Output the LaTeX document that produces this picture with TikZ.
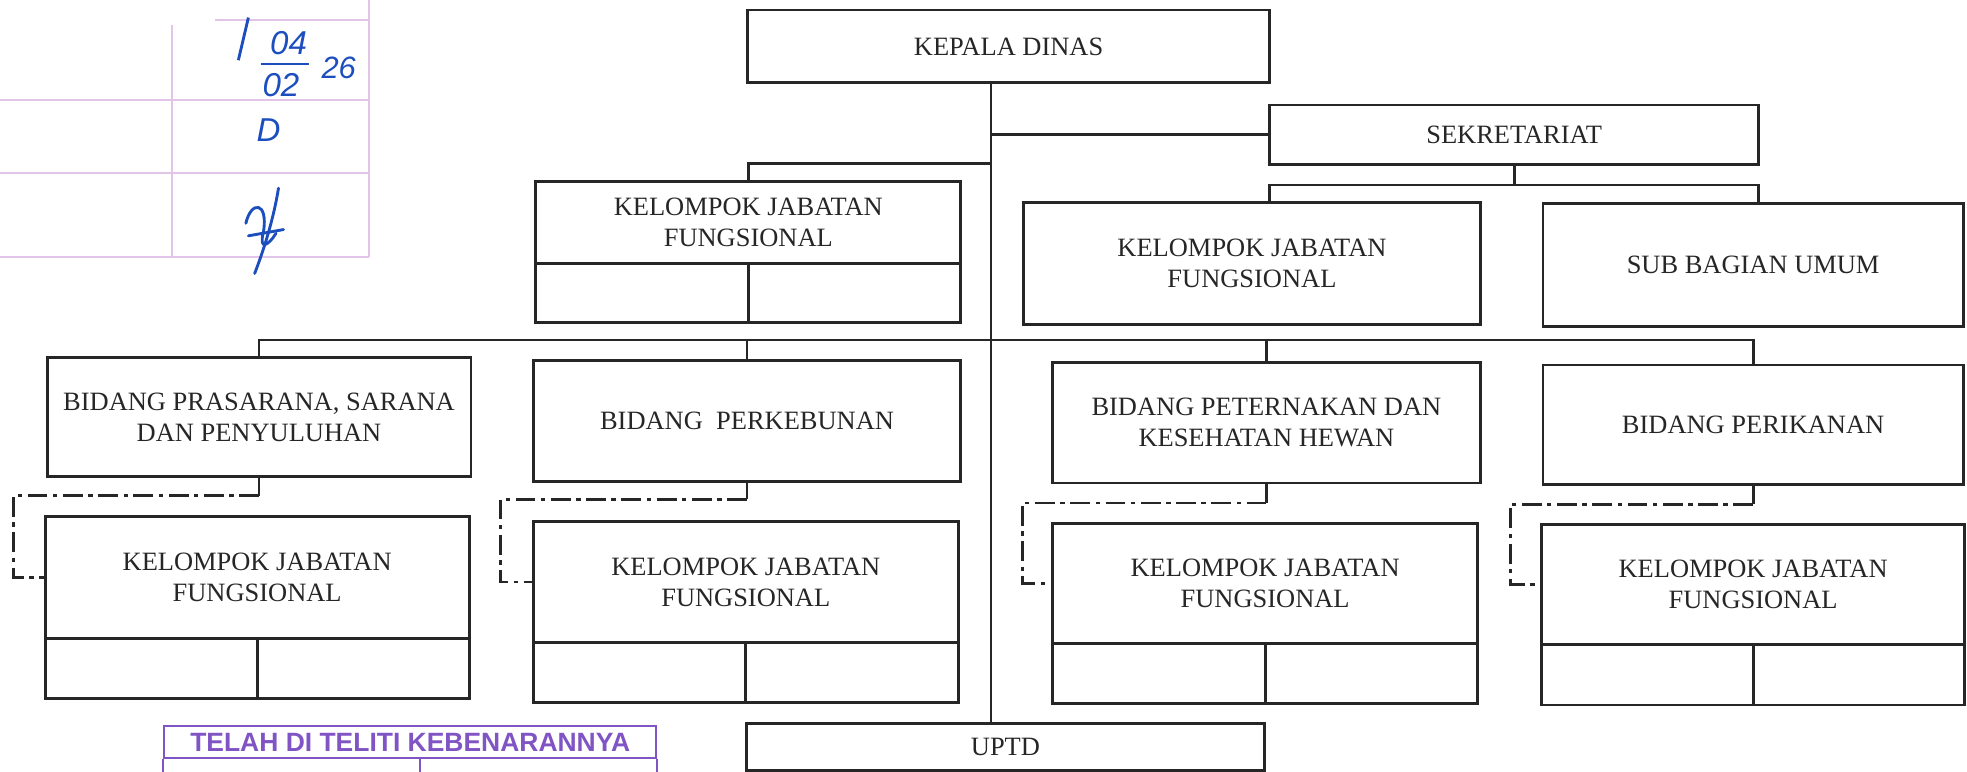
\documentclass[tikz,border=0pt]{standalone}
\usepackage{fontspec}
\setmainfont{Liberation Serif}
\setsansfont{Liberation Sans}
\usetikzlibrary{positioning}

\definecolor{stampviolet}{RGB}{128,84,196}
\definecolor{tablepink}{RGB}{226,196,232}
\definecolor{inkblue}{RGB}{28,78,190}

\tikzset{
  unit/.style={draw=black!85, line width=1.3pt, inner sep=0pt, outer sep=0pt, align=center,
    text=black!85, font=\fontsize{12}{14.2}\selectfont},
  link/.style={draw=black!85, line width=1.3pt},
  dotlink/.style={draw=black!85, line width=1.25pt,
    dash pattern=on 9pt off 2.5pt on 2pt off 2.5pt},
  hand/.style={text=inkblue, inner sep=0pt, font=\sffamily\itshape\fontsize{15}{15}\selectfont},
}

\begin{document}
\begin{tikzpicture}[x=0.02cm, y=-0.02cm]
  \useasboundingbox (0,0) rectangle (1568,615);

  % faint table and handwriting, top left
  \draw[tablepink, line width=0.8pt] (294,0) -- (294,205);
  \draw[tablepink, line width=0.8pt] (137,20) -- (137,205);
  \draw[tablepink, line width=0.8pt] (171,16) -- (294,16);
  \draw[tablepink, line width=0.8pt] (0,80) -- (294,80);
  \draw[tablepink, line width=0.8pt] (0,138) -- (294,138);
  \draw[tablepink, line width=0.8pt] (0,205) -- (294,205);
  \node[hand] (hwa) at (230,34) {04};
  \node[hand] (hwb) at (224,68) {02};
  \node[hand, font=\sffamily\itshape\fontsize{14}{14}\selectfont] (hwc) at (270,54) {26};
  \node[hand] (hwd) at (214,104) {D};
  \draw[inkblue, line width=1.3pt] (208,51) -- (246,51);
  \draw[inkblue, line width=1.3pt] (190,48) -- (198,14);
  \draw[inkblue, line width=1.3pt, line cap=round] (222,150) .. controls (218,175) and (210,200) .. (203,218);
  \draw[inkblue, line width=1.3pt, line cap=round] (196,178) .. controls (200,160) and (214,160) .. (210,185) .. controls (206,200) and (214,196) .. (220,186);
  \draw[inkblue, line width=1.3pt, line cap=round] (198,188) -- (226,183);

  \begin{scope}[every node/.style={unit}]
    \node[minimum width=8.32cm, minimum height=1.16cm] (kepala) at (804,37) {KEPALA DINAS};
    \node[minimum width=7.8cm, minimum height=0.95cm] (sekretariat) at (1207,107.5) {SEKRETARIAT};

    \node[minimum width=6.78cm, minimum height=1.3cm] (jfa) at (596.5,177.5) {KELOMPOK JABATAN\\FUNGSIONAL};
    \node[minimum width=3.39cm, minimum height=0.94cm, below right=0pt and 0pt of jfa.south west] (jfal) {};
    \node[minimum width=3.39cm, minimum height=0.94cm, below left=0pt and 0pt of jfa.south east] (jfar) {};
    \node[minimum width=7.28cm, minimum height=1.94cm] (jfb) at (998,210) {KELOMPOK JABATAN\\FUNGSIONAL};
    \node[minimum width=6.7cm, minimum height=1.96cm] (umum) at (1397.5,211) {SUB BAGIAN UMUM};

    \node[minimum width=6.76cm, minimum height=1.9cm] (prasarana) at (206.5,332.5) {BIDANG PRASARANA, SARANA\\DAN PENYULUHAN};
    \node[minimum width=6.82cm, minimum height=1.92cm] (perkebunan) at (595.5,335.5) {BIDANG\ \ PERKEBUNAN};
    \node[minimum width=6.82cm, minimum height=1.92cm] (peternakan) at (1009.5,337) {BIDANG PETERNAKAN DAN\\KESEHATAN HEWAN};
    \node[minimum width=6.7cm, minimum height=1.9cm] (perikanan) at (1397.5,338.5) {BIDANG PERIKANAN};

    \node[minimum width=6.76cm, minimum height=1.94cm] (jf1) at (205,460.5) {KELOMPOK JABATAN\\FUNGSIONAL};
    \node[minimum width=3.38cm, minimum height=0.96cm, below right=0pt and 0pt of jf1.south west] (jf1l) {};
    \node[minimum width=3.38cm, minimum height=0.96cm, below left=0pt and 0pt of jf1.south east] (jf1r) {};

    \node[minimum width=6.78cm, minimum height=1.92cm] (jf2) at (594.5,464) {KELOMPOK JABATAN\\FUNGSIONAL};
    \node[minimum width=3.39cm, minimum height=0.96cm, below right=0pt and 0pt of jf2.south west] (jf2l) {};
    \node[minimum width=3.39cm, minimum height=0.96cm, below left=0pt and 0pt of jf2.south east] (jf2r) {};

    \node[minimum width=6.78cm, minimum height=1.92cm] (jf3) at (1008.5,465) {KELOMPOK JABATAN\\FUNGSIONAL};
    \node[minimum width=3.39cm, minimum height=0.96cm, below right=0pt and 0pt of jf3.south west] (jf3l) {};
    \node[minimum width=3.39cm, minimum height=0.96cm, below left=0pt and 0pt of jf3.south east] (jf3r) {};

    \node[minimum width=6.74cm, minimum height=1.92cm] (jf4) at (1397.5,466) {KELOMPOK JABATAN\\FUNGSIONAL};
    \node[minimum width=3.37cm, minimum height=0.96cm, below right=0pt and 0pt of jf4.south west] (jf4l) {};
    \node[minimum width=3.37cm, minimum height=0.96cm, below left=0pt and 0pt of jf4.south east] (jf4r) {};

    \node[minimum width=8.26cm, minimum height=0.74cm] (uptd) at (801.5,595.5) {UPTD};
  \end{scope}

  % junction points
  \coordinate (tr) at (790,0);
  \coordinate (jjfa) at (790,130);
  \coordinate (bus) at (790,271);
  \coordinate (jumum) at (1207,147.5);
  \coordinate (c1) at (11,395);
  \coordinate (c2) at (399,398);
  \coordinate (c3) at (815,401);
  \coordinate (c4) at (1204,402);

  \draw[link] (kepala.south -| tr) -- (uptd.north -| tr);
  \draw[link] (sekretariat.west -| tr) -- (sekretariat.west);
  \draw[link] (jjfa) -| (jfa.north);
  \draw[link] (sekretariat.south) -- (jumum);
  \draw[link] (sekretariat.west |- jfb.north) |- (jumum) -| (sekretariat.east |- umum.north);
  \draw[link] (prasarana.north) |- (bus) -| (perikanan.north);
  \draw[link] (perkebunan.north) -- (perkebunan.north |- bus);
  \draw[link] (peternakan.north) -- (peternakan.north |- bus);

  \draw[link] (prasarana.south) -- (prasarana.south |- c1);
  \draw[dotlink] (prasarana.south |- c1) -| (c1 |- jf1.west) -- (jf1.west);
  \draw[link] (perkebunan.south) -- (perkebunan.south |- c2);
  \draw[dotlink] (perkebunan.south |- c2) -| (c2 |- jf2.west) -- (jf2.west);
  \draw[link] (peternakan.south) -- (peternakan.south |- c3);
  \draw[dotlink] (peternakan.south |- c3) -| (c3 |- jf3.west) -- (jf3.west);
  \draw[link] (perikanan.south) -- (perikanan.south |- c4);
  \draw[dotlink] (perikanan.south |- c4) -| (c4 |- jf4.west) -- (jf4.west);

  % stamp
  \node[draw=stampviolet, line width=1pt, inner sep=0pt, minimum width=7.84cm, minimum height=0.5cm,
    text=stampviolet, font=\sffamily\bfseries\fontsize{12}{12}\selectfont] (stamp) at (327,591.5) {TELAH DI TELITI KEBENARANNYA};
  \coordinate (sbot) at (335,615);
  \draw[stampviolet, line width=1pt] (stamp.south west) -- (stamp.south west |- sbot);
  \draw[stampviolet, line width=1pt] (stamp.south east) -- (stamp.south east |- sbot);
  \draw[stampviolet, line width=1pt] (sbot |- stamp.south) -- (sbot);
\end{tikzpicture}
\end{document}
